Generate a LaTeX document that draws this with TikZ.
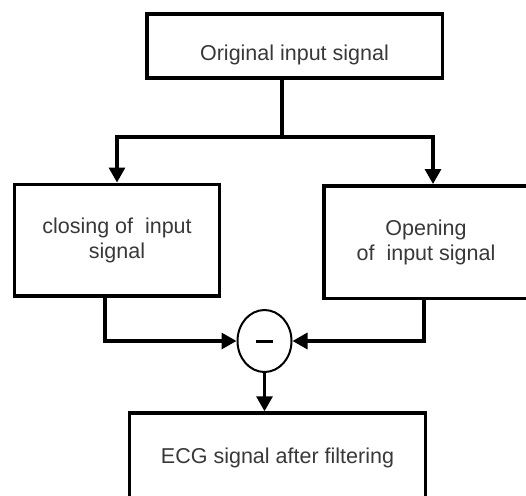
\documentclass[tikz,border=0pt]{standalone}
\usepackage{fontspec}
\setmainfont{Liberation Sans}
\usepackage{tikz}
\usetikzlibrary{arrows.meta,calc,positioning,shapes.geometric}

\begin{document}
\begin{tikzpicture}[
		x=1pt, y=-1pt,
		block/.style={rectangle, draw, line width=3.5pt, inner sep=0pt, align=center,
			text=black!78, font=\fontsize{21.5}{25}\selectfont},
		txt/.style={text=black!78, font=\fontsize{21.5}{25}\selectfont, inner sep=0pt},
		diffnode/.style={ellipse, draw, line width=2pt, minimum width=54pt, minimum height=62pt, inner sep=0pt},
		wire/.style={line width=3.3pt},
		arr/.style={wire, -{Triangle[length=15pt,width=16pt]}}
		]
	\useasboundingbox (0,0) rectangle (526,495);

	\node[block, minimum width=295.5pt, minimum height=64pt] (orig) at (294.5,46) {};
	\node[txt] (origtxt) at ($(orig.center)+(0,9)$) {Original input signal};
	\node[block, minimum width=205pt, minimum height=111.5pt] (closing) at (117,240) {closing of\ \ input\\signal};
	\node[block, minimum width=204pt, minimum height=112.5pt] (opening) at (426,242) {Opening\\of\ \ input signal};
	\node[diffnode] (diff) at (264.5,341) {\rule{17pt}{3pt}};
	\node[block, minimum width=296pt, minimum height=90pt] (ecg) at (277.5,458) {ECG signal after filtering};

	\coordinate (split) at (282,137);
	\coordinate (rsplit) at (433,137);

	\draw[wire] (orig.south -| split) -- (split);
	\draw[arr] (split) -| (closing.north);
	\draw[arr] (split) -- (rsplit) -- (rsplit |- opening.north);
	\draw[arr] (closing.south -| 105,0) |- (diff.west);
	\draw[arr] (opening.south -| 424,0) |- (diff.east);
	\draw[arr] (diff.south) -- (diff.south |- ecg.north);

\end{tikzpicture}
\end{document}
